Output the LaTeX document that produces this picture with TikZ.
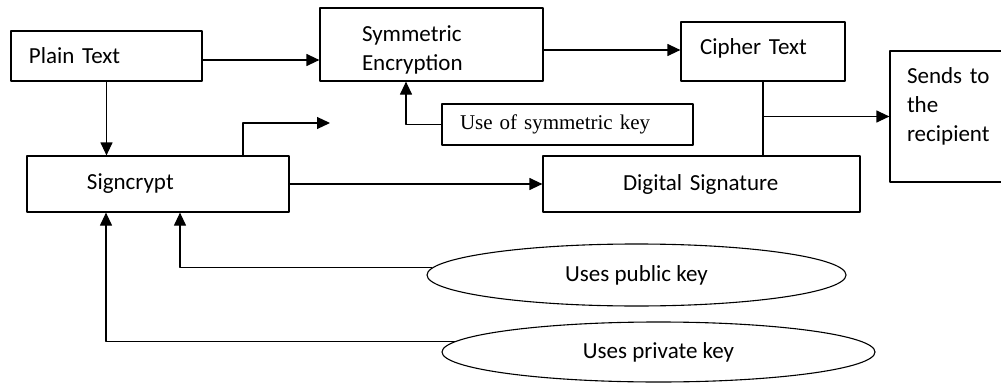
\documentclass[tikz,border=0pt]{standalone}
\usepackage{fontspec}
\setmainfont{Carlito}
\newfontfamily\keyserif{Liberation Serif}
\usetikzlibrary{arrows.meta,shapes.geometric}
\tikzset{
  blk/.style={draw,rectangle,line width=1.2bp,inner ysep=0pt,align=left,
    font=\fontsize{23bp}{29bp}\selectfont},
  oval/.style={draw,ellipse,line width=1.1bp,inner sep=0pt,
    font=\fontsize{23bp}{29bp}\selectfont},
}
\begin{document}
\begin{tikzpicture}[x=1bp,y=1bp,>={Triangle[length=13bp,width=12bp]},line join=bevel,]
\useasboundingbox (0,0) rectangle (1001,383);
%%
\node (PlainText) at (106.5,327) [blk,minimum width=191bp,minimum height=50bp,text width=155bp,inner xsep=18bp] {Plain Text};
  \node (SymEnc) at (431.5,338.5) [blk,minimum width=223bp,minimum height=73bp,text width=139bp,inner xsep=42bp] {\rule{0pt}{27bp}Symmetric\\Encryption};
  \node (CipherText) at (763,331.5) [blk,minimum width=164bp,minimum height=59bp,text width=126bp,inner xsep=19bp] {Cipher Text\rule[-10bp]{0pt}{10bp}};
  \node (SymKey) at (567.5,258.5) [blk,minimum width=251bp,minimum height=41bp,text width=215bp,inner xsep=18bp,font=\keyserif\fontsize{21bp}{25bp}\selectfont] {Use of symmetric key};
  \node (Signcrypt) at (158,199) [blk,minimum width=262bp,minimum height=56bp,text width=142bp,inner xsep=60bp] {Signcrypt};
  \node (DigSig) at (701.5,199) [blk,minimum width=317bp,minimum height=56bp,text width=157bp,inner xsep=80bp] {Digital Signature};
  \node (Sends) at (955,266.5) [blk,minimum width=130bp,minimum height=131bp,text width=96bp,inner xsep=17bp] {Sends to\\the\\recipient\rule[-24bp]{0pt}{24bp}};
  \node (PubKey) at (636.5,108) [oval,minimum width=419bp,minimum height=62bp] {Uses public key};
  \node (PrivKey) at (658.5,31) [oval,minimum width=433bp,minimum height=60bp] {Uses private key};
  \coordinate (out) at (330,260);
  \draw [black,line width=1.2bp,->] (PlainText.east |- 0,323) -- (SymEnc.west |- 0,323);
  \draw [black,line width=1.2bp,->] (SymEnc.east |- 0,333) -- (CipherText.west |- 0,333);
  \draw [black,line width=1.2bp,->] (SymKey.west) -| ([xshift=-25.5bp]SymEnc.south);
  \draw [black,line width=1.2bp,->] (PlainText.south) -- (PlainText.south |- Signcrypt.north);
  \draw [black,line width=1.2bp,->] ([xshift=85bp]Signcrypt.north) |- (out);
  \draw [black,line width=1.2bp,->] (Signcrypt.east) -- (DigSig.west);
  \draw [black,line width=1.2bp] (CipherText.south) -- (CipherText.south |- DigSig.north);
  \draw [black,line width=1.2bp,->] (CipherText.south |- Sends.west) -- (Sends.west);
  \draw [black,line width=1.1bp,->] (PubKey.178) -| ([xshift=22bp]Signcrypt.south);
  \draw [black,line width=1.1bp,->] (PrivKey.177) -| ([xshift=-52bp]Signcrypt.south);
%
\end{tikzpicture}
\end{document}
